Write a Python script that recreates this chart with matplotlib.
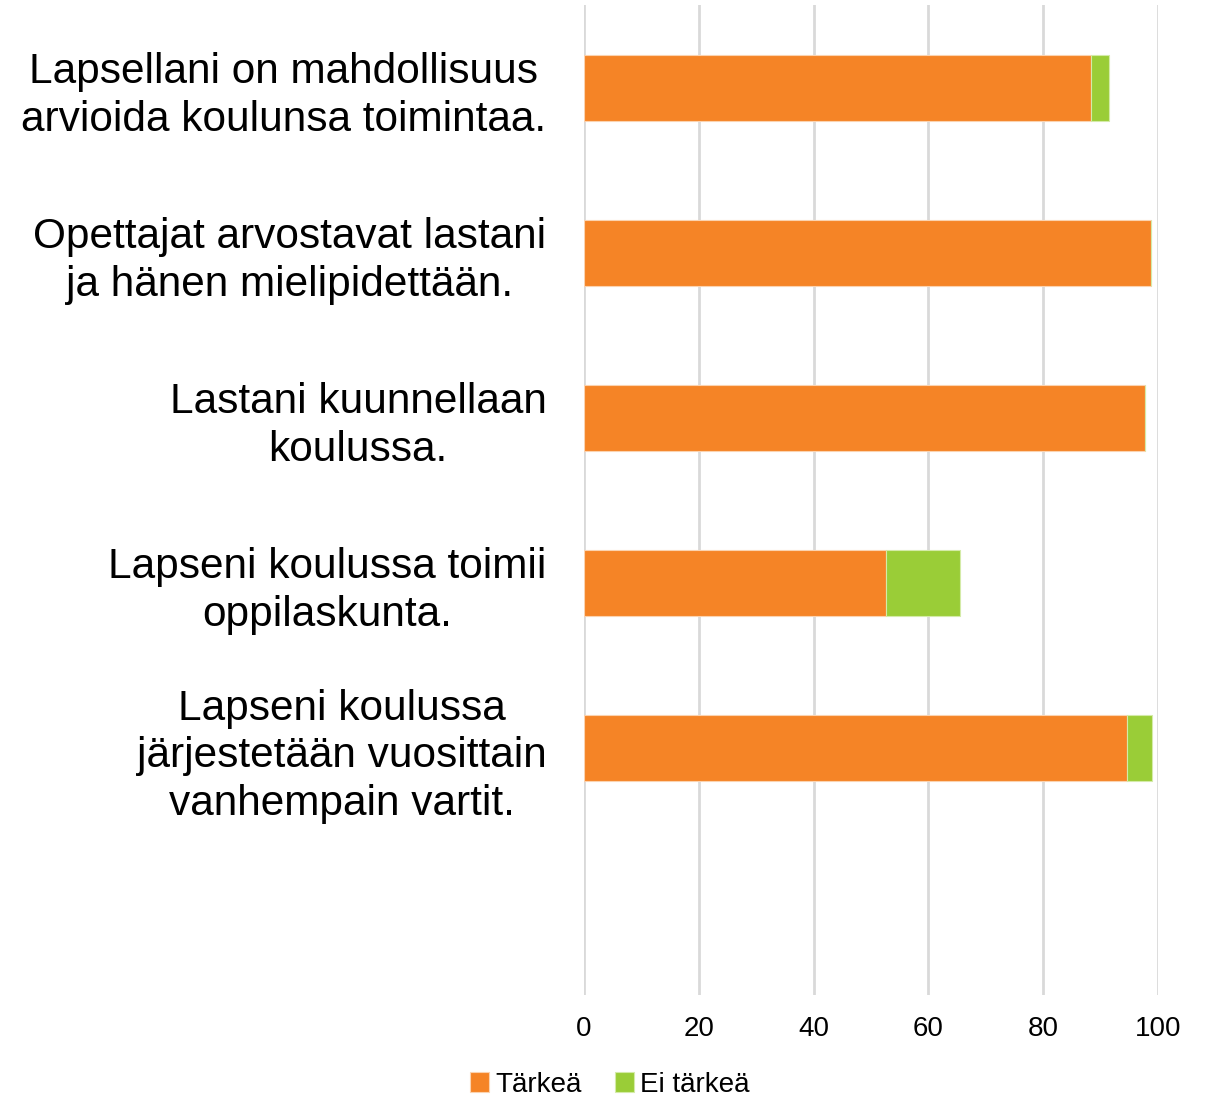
import matplotlib.pyplot as plt
import numpy as np

plt.rcParams['font.family'] = ['Liberation Sans', 'DejaVu Sans']

categories = [
    "Lapsellani on mahdollisuus\narvioida koulunsa toimintaa.",
    "Opettajat arvostavat lastani\nja hänen mielipidettään.",
    "Lastani kuunnellaan\nkoulussa.",
    "Lapseni koulussa toimii\noppilaskunta.",
    "Lapseni koulussa\njärjestetään vuosittain\nvanhempain vartit.",
]
tarkea = [88.3, 98.8, 97.8, 52.6, 94.6]
ei_tarkea = [3.2, 0, 0, 12.9, 4.3]
n_slots = 6  # one empty slot at the bottom

orange = '#F58426'
green = '#9ACD37'

fig = plt.figure(figsize=(12.07, 10.98), dpi=100)
ax = fig.add_axes([0.4838, 0.0934, 0.4756, 0.9016])

y = np.arange(len(categories))
ax.barh(y, tarkea, height=0.4, color=orange, edgecolor='#FBD3B0', linewidth=0.8,
        label='Tärkeä', zorder=3)
ax.barh(y, ei_tarkea, left=tarkea, height=0.4, color=green, edgecolor='#D4EBA8',
        linewidth=0.8, label='Ei tärkeä', zorder=3)

ax.set_ylim(n_slots - 0.5, -0.5)
ax.set_xlim(0, 100)
ax.set_xticks([0, 20, 40, 60, 80, 100])
ax.set_yticks(y)
ax.set_yticklabels(categories, fontsize=30.5, multialignment='center', linespacing=1.25)
for lbl in ax.get_yticklabels():
    lbl.set_y(lbl.get_position()[1])
ax.tick_params(axis='y', length=0, pad=27)
ax.tick_params(axis='x', length=0, pad=15, labelsize=20)

ax.grid(axis='x', color='#D9D9D9', linewidth=2, zorder=0)
for s in ax.spines.values():
    s.set_visible(False)

fig.legend(*ax.get_legend_handles_labels(), loc='center', bbox_to_anchor=(0.505, 0.012),
           ncol=2, frameon=False, fontsize=20, handlelength=0.7, handleheight=0.7,
           handletextpad=0.2, columnspacing=1.2)

fig.savefig('out.png', dpi=100)
